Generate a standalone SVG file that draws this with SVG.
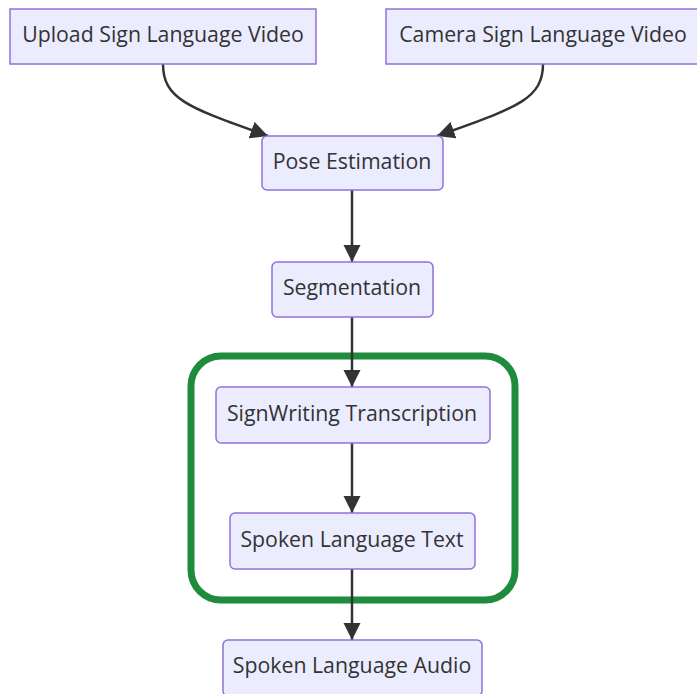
<svg xmlns="http://www.w3.org/2000/svg" width="697" height="694" viewBox="0 0 697 694">
<style>
.n{fill:#ECECFF;stroke:#9370DB;stroke-width:1.5}
.t{font-family:"Open Sans","Liberation Sans",sans-serif;font-size:21.3px;fill:#333;text-anchor:middle;dominant-baseline:central}
.e{fill:none;stroke:#333;stroke-width:2.5}
</style>
<defs>
<marker id="ah" viewBox="0 0 10 10" refX="10" refY="5" markerWidth="7" markerHeight="7" markerUnits="strokeWidth" orient="auto">
<path d="M0,0 L10,5 L0,10 z" fill="#333"/>
</marker>
</defs>
<rect width="697" height="694" fill="#fff"/>
<g id="cluster">
<rect x="191" y="356" width="324" height="244" rx="30" fill="none" stroke="#1E8C3C" stroke-width="7"/>
</g>
<g id="edges">
<path class="e" marker-end="url(#ah)" d="M163,64 C163,100 190,108 268,136"/>
<path class="e" marker-end="url(#ah)" d="M543,64 C543,100 515,108 437,136"/>
<path class="e" marker-end="url(#ah)" d="M352,190 L352,262"/>
<path class="e" marker-end="url(#ah)" d="M352,317 L352,387"/>
<path class="e" marker-end="url(#ah)" d="M352,443 L352,513"/>
<path class="e" marker-end="url(#ah)" d="M352,569 L352,640"/>
</g>
<g id="upload"><rect class="n" x="10" y="9" width="306" height="55"/><text class="t" x="163" y="33">Upload Sign Language Video</text></g>
<g id="camera"><rect class="n" x="386" y="9" width="314" height="55"/><text class="t" x="543" y="33">Camera Sign Language Video</text></g>
<g id="pose"><rect class="n" x="262" y="136" width="181" height="54" rx="5"/><text class="t" x="352" y="160">Pose Estimation</text></g>
<g id="seg"><rect class="n" x="272" y="262" width="161" height="55" rx="5"/><text class="t" x="352" y="286">Segmentation</text></g>
<g id="sw"><rect class="n" x="216" y="387" width="274" height="56" rx="5"/><text class="t" x="352" y="412">SignWriting Transcription</text></g>
<g id="slt"><rect class="n" x="230" y="513" width="245" height="56" rx="5"/><text class="t" x="352" y="538">Spoken Language Text</text></g>
<g id="audio"><rect class="n" x="223" y="640" width="259" height="56" rx="5"/><text class="t" x="352" y="664">Spoken Language Audio</text></g>
</svg>
